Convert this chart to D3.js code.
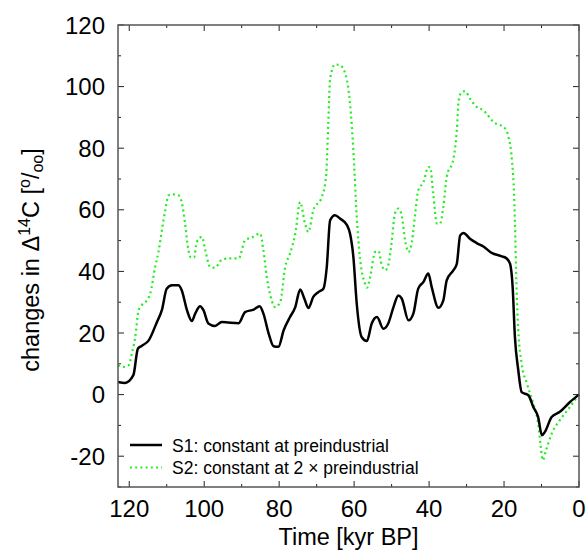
<!DOCTYPE html>
<html>
<head>
<meta charset="utf-8">
<script src="https://cdn.jsdelivr.net/npm/d3@7"></script>
<style>
  body { margin: 0; background: #fff; }
  text { font-family: "Liberation Sans", Arial, sans-serif; fill: #000; }
</style>
</head>
<body>
<svg id="chart" width="588" height="550"></svg>
<script>
// S1: constant at preindustrial
const s1Time = [123, 121.1, 118.9, 117.7, 116.7, 114.8, 112.6, 111.3, 110, 108.6, 106.9, 106, 104.6, 103.3, 102.4,
  101.1, 100.2, 98.9, 97.1, 95.3, 93.5, 90.8, 89.1, 86.8, 85.2, 84.2, 82.8, 81.5, 80.2, 78.8, 77.1, 75.7, 74.4,
  73.3, 72.2, 70.9, 69.5, 68.2, 67.3, 66.4, 65.1, 63.7, 61.9, 61.1, 60.2, 59.3, 58, 56.6, 55.3, 53.9, 52.2, 50.9,
  49.5, 48.2, 47.3, 45.5, 44.2, 42.9, 41.5, 40.2, 39.3, 37.5, 36.2, 35.3, 33.5, 32.6, 31.7, 30.8, 29.1, 27.3, 25.5,
  23.3, 20.6, 19.3, 18.4, 17.7, 17.1, 16.2, 15.3, 13.5, 12.2, 10.9, 9.9, 9.1, 7.3, 5.1, 2.4, 0];
const s1Value = [4.1, 3.8, 6.3, 14.9, 15.8, 17.6, 23.6, 27.4, 34.4, 35.5, 35.5, 33.9, 27.4, 23.9, 26.3,
  28.7, 27.4, 23.1, 22.3, 23.6, 23.4, 23.2, 26.8, 27.6, 28.7, 26.3, 19.8, 15.7, 15.5, 20.9, 25.2, 28.4, 34.1,
  31.2, 28.1, 31.7, 33.3, 34.4, 41.4, 56.6, 58.2, 57.1, 55, 52.3, 44.7, 29.5, 18.7, 17.4, 23.1, 25.2, 21.4, 23.1,
  28.4, 32.2, 31.2, 24.1, 26.3, 34.4, 36.6, 39.3, 34.9, 28.2, 30.6, 37.1, 40.4, 42.5, 51.7, 52.5, 50.6, 49.2, 48.1,
  46, 44.9, 44.2, 42.5, 34.9, 18.7, 7.9, 0.8, -0.2, -4, -7.3, -13.2, -12.1, -7.3, -5.6, -2.4, 0];

// S2: constant at 2 x preindustrial
const s2Time = [123, 121.5, 120.2, 119.3, 118.4, 117.5, 116.7, 115.3, 114.4, 113.1, 112.2, 111.3, 110.4, 109.5,
  108.2, 106.9, 106, 105.1, 104.2, 103.5, 102.7, 102, 100.6, 99.7, 98.4, 97.1, 95.3, 93.5, 90.8, 89.1, 87.3, 85.1,
  84.2, 83.3, 82, 81.1, 79.7, 78.4, 77.1, 75.7, 74.4, 73.1, 72.2, 70.9, 68.6, 67.5, 66.9, 66.4, 65.1, 63.7, 61.9,
  61.1, 60.2, 59.3, 58.4, 57.1, 56.6, 55.7, 54.4, 53.5, 52.6, 51.7, 50.8, 50, 49.1, 48.2, 47.3, 46.4, 45.5, 44.6,
  43.7, 42.9, 41.5, 40.2, 39.7, 38.9, 37.9, 37.1, 36.2, 35.3, 33.5, 32.6, 32.1, 31.3, 30.4, 29.1, 27.3, 25.5, 22.8,
  19.7, 18.8, 17.9, 17.3, 17.0, 16.7, 16.2, 15.3, 13.9, 12.2, 10.9, 10.2, 9.7, 8.8, 7.3, 5.1, 2.4, 0];
const s2Value = [9.5, 9, 9.5, 13.3, 18.7, 27.4, 29, 30.6, 32.8, 41.4, 46.3, 53.3, 59.8, 64.7,
  65, 64.7, 62.5, 55.5, 46.8, 44.5, 44.5, 49.5, 51.2, 46.8, 41.4, 41.2, 43.8, 44.2, 44.2, 50.1, 51, 52.3,
  46.8, 38.2, 30.6, 28.4, 30.1, 41.4, 45.8, 52.3, 62.5, 55.5, 52.8, 59.8, 64.2, 70.6, 88, 102.6, 107.2, 106.9, 102,
  94.5, 79.3, 57.7, 44, 36, 34.7, 38.2, 46.3, 46.6, 42, 40.4, 42.5, 49.5, 58.8, 60.4, 58.2, 50.1, 46.3, 49.5,
  58.8, 66.3, 69, 73.9, 73.7, 65.3, 55.5, 55.5, 60.9, 70.6, 76.6, 85.8, 95.5, 98.2, 98.5, 96.1, 93.4, 92.3, 88.5,
  86.4, 83.6, 76.1, 64.2, 51.2, 36, 20.9, 10.1, 3.6, -2.9, -9.4, -17, -21.3, -18.1, -12.7, -8.3, -4, 0];

const xTicks = [120, 100, 80, 60, 40, 20, 0];
const yTicks = [120, 100, 80, 60, 40, 20, 0, -20];
const seriesNames = ["S1: constant at preindustrial", "S2: constant at 2 \u00d7 preindustrial"];

const svg = d3.select("#chart");
const plotLeft = 118, plotRight = 579, plotTop = 25, plotBottom = 487;

const x = d3.scaleLinear().domain([123, 0]).range([plotLeft, plotRight]);
const y = d3.scaleLinear().domain([-30, 120]).range([plotBottom, plotTop]);

const line = d3.line()
  .x((d) => x(d[0]))
  .y((d) => y(d[1]))
  .curve(d3.curveMonotoneX);

const s1 = s1Time.map((t, i) => [t, s1Value[i]]);
const s2 = s2Time.map((t, i) => [t, s2Value[i]]);

// ticks, inward on all four sides
const minorX = d3.range(120, -1, -10);
const minorY = d3.range(120, -31, -10);
const tickG = svg.append("g").attr("stroke", "#222").attr("stroke-width", 1);
minorX.forEach((t) => {
  const len = t % 20 === 0 ? 6 : 3;
  tickG.append("line").attr("x1", x(t)).attr("x2", x(t)).attr("y1", plotBottom).attr("y2", plotBottom - len);
  tickG.append("line").attr("x1", x(t)).attr("x2", x(t)).attr("y1", plotTop).attr("y2", plotTop + len);
});
minorY.forEach((v) => {
  const len = v % 20 === 0 ? 6 : 3;
  tickG.append("line").attr("x1", plotLeft).attr("x2", plotLeft + len).attr("y1", y(v)).attr("y2", y(v));
  tickG.append("line").attr("x1", plotRight).attr("x2", plotRight - len).attr("y1", y(v)).attr("y2", y(v));
});

// lines
svg.append("path")
  .datum(s2)
  .attr("d", line)
  .attr("fill", "none")
  .attr("stroke", "#22ee22")
  .attr("stroke-width", 2.2)
  .attr("stroke-dasharray", "2,3.2");

svg.append("path")
  .datum(s1)
  .attr("d", line)
  .attr("fill", "none")
  .attr("stroke", "#000")
  .attr("stroke-width", 2.5)
  .attr("stroke-linejoin", "round");

// frame
svg.append("rect")
  .attr("x", plotLeft).attr("y", plotTop)
  .attr("width", plotRight - plotLeft).attr("height", plotBottom - plotTop)
  .attr("fill", "none")
  .attr("stroke", "#555")
  .attr("stroke-width", 1.5);

// tick labels
svg.append("g").selectAll("text")
  .data(xTicks)
  .enter()
  .append("text")
  .attr("x", (d) => x(d))
  .attr("y", 517)
  .attr("text-anchor", "middle")
  .style("font-size", "24px")
  .text((d) => d);

svg.append("g").selectAll("text")
  .data(yTicks)
  .enter()
  .append("text")
  .attr("x", 105)
  .attr("y", (d) => y(d))
  .attr("dy", "0.36em")
  .attr("text-anchor", "end")
  .style("font-size", "24px")
  .text((d) => d);

// axis titles
svg.append("text")
  .attr("x", (plotLeft + plotRight) / 2)
  .attr("y", 545)
  .attr("text-anchor", "middle")
  .style("font-size", "23.5px")
  .text("Time [kyr BP]");

const yl = svg.append("text")
  .attr("transform", "translate(39,260) rotate(-90)")
  .attr("text-anchor", "middle")
  .style("font-size", "23.5px");
yl.append("tspan").text("changes in \u0394");
yl.append("tspan").attr("dy", -9).style("font-size", "16px").text("14");
yl.append("tspan").attr("dy", 9).text("C [");
yl.append("tspan").attr("dy", -9).style("font-size", "16px").text("o");
yl.append("tspan").attr("dy", 9).text("/");
yl.append("tspan").attr("dy", 4).style("font-size", "16px").text("oo");
yl.append("tspan").attr("dy", -4).text("]");

// legend
const legend = svg.append("g");
const legendY = [445, 467.5];
legend.append("line")
  .attr("x1", 130).attr("x2", 162).attr("y1", legendY[0]).attr("y2", legendY[0])
  .attr("stroke", "#000").attr("stroke-width", 2.5);
legend.append("line")
  .attr("x1", 130).attr("x2", 162).attr("y1", legendY[1]).attr("y2", legendY[1])
  .attr("stroke", "#22ee22").attr("stroke-width", 2.2).attr("stroke-dasharray", "2,3.2");
legend.selectAll("text")
  .data(seriesNames)
  .enter()
  .append("text")
  .attr("x", 172)
  .attr("y", (d, i) => legendY[i] + 6.5)
  .style("font-size", "17.5px")
  .text((d) => d);
</script>
</body>
</html>
